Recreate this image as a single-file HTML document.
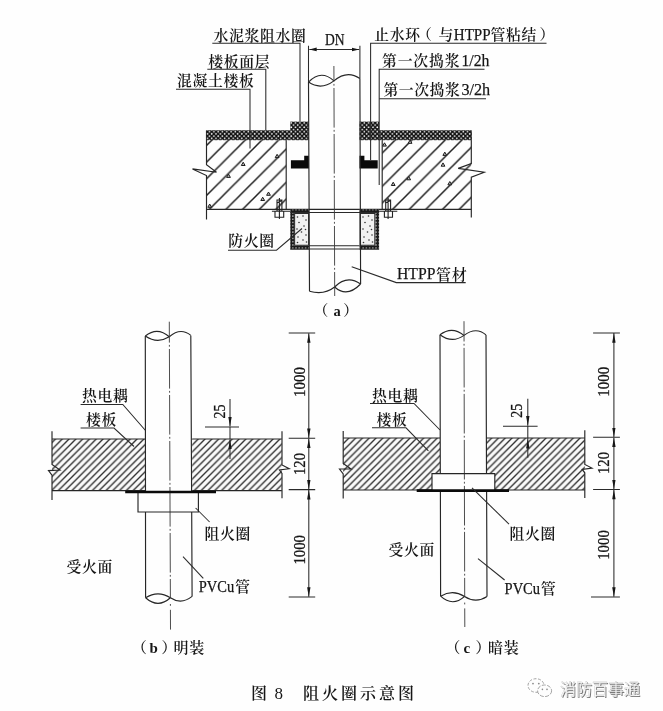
<!DOCTYPE html>
<html lang="zh-CN">
<head>
<meta charset="utf-8">
<title>图8 阻火圈示意图</title>
<style>
html,body{margin:0;padding:0;background:#fefefe;}
body{width:663px;height:711px;overflow:hidden;}
svg{display:block;filter:blur(0.35px);}
text{font-family:"Liberation Serif","Noto Serif CJK SC",serif;fill:#161616;}
.cj{font-size:14.8px;font-weight:600;letter-spacing:0.7px;}
.ln{stroke:#262626;stroke-width:1.15;fill:none;}
.thin{stroke:#2a2a2a;stroke-width:1.05;fill:none;}
.cl{stroke:#3a3a3a;stroke-width:0.9;fill:none;stroke-dasharray:39.6 2.3 1.8 2.3;}
.num{font-size:17px;stroke:#161616;stroke-width:0.3;}
.lat{font-size:17.5px;stroke:#161616;stroke-width:0.25;}
.wm{font-family:"Liberation Sans","Noto Sans CJK SC",sans-serif;font-size:16px;}
</style>
</head>
<body>
<svg width="663" height="711" viewBox="0 0 663 711">
<defs>
  <!-- dark dotted pattern (floor finish / mortar ring) -->
  <pattern id="pDot" width="4.3" height="4.4" patternUnits="userSpaceOnUse" patternTransform="translate(2.1 3)">
    <rect width="4.3" height="4.4" fill="#111"/>
    <circle cx="1.07" cy="1.1" r="0.86" fill="#fff"/>
    <circle cx="3.22" cy="3.3" r="0.86" fill="#fff"/>
  </pattern>
  <!-- collar casing pattern -->
  <pattern id="pCase" width="3.2" height="3.2" patternUnits="userSpaceOnUse">
    <rect width="3.2" height="3.2" fill="#1a1a1a"/>
    <circle cx="1.6" cy="1.6" r="0.7" fill="#f0f0f0"/>
  </pattern>
  <!-- wide 45deg hatch for concrete in (a) -->
  <pattern id="pWide" width="16.66" height="16.66" patternUnits="userSpaceOnUse" patternTransform="translate(352 0)">
    <path d="M-1 1 L1 -1 M-1 17.66 L17.66 -1 M15.66 17.66 L17.66 15.66" stroke="#1e1e1e" stroke-width="1.5" fill="none"/>
  </pattern>
  <!-- dense 45deg hatch for slabs in (b),(c) -->
  <pattern id="pDense" width="6.8" height="6.8" patternUnits="userSpaceOnUse" patternTransform="translate(4.9 0)">
    <rect width="6.8" height="6.8" fill="#fafafa"/>
    <path d="M-1 1 L1 -1 M-1 7.8 L7.8 -1 M5.8 7.8 L7.8 5.8" stroke="#2c2c2c" stroke-width="1.35" fill="none"/>
  </pattern>
  <marker id="arr" markerWidth="12" markerHeight="6" refX="9.6" refY="3" orient="auto" markerUnits="userSpaceOnUse">
    <path d="M0 1.3 L9.6 3 L0 4.7 Z" fill="#161616"/>
  </marker>
  <marker id="arrS" markerWidth="12" markerHeight="6" refX="1" refY="3" orient="auto" markerUnits="userSpaceOnUse">
    <path d="M10.6 1.3 L1 3 L10.6 4.7 Z" fill="#161616"/>
  </marker>
  <marker id="arrB" markerWidth="10" markerHeight="6" refX="7.4" refY="3" orient="auto" markerUnits="userSpaceOnUse">
    <path d="M0 1.2 L7.4 3 L0 4.8 Z" fill="#161616"/>
  </marker>
  <marker id="arrA" markerWidth="10" markerHeight="6" refX="1" refY="3" orient="auto" markerUnits="userSpaceOnUse">
    <path d="M8.4 1.2 L1 3 L8.4 4.8 Z" fill="#161616"/>
  </marker>
</defs>

<!-- ================= FIGURE (a) ================= -->
<g id="figA">
  <!-- concrete slab left / right -->
  <rect x="206.5" y="140" width="79.7" height="69.4" fill="url(#pWide)"/>
  <rect x="382.2" y="140" width="89.1" height="69.4" fill="url(#pWide)"/>
  <!-- slab outlines -->
  <path class="ln" d="M206.5 130.4 V164.8 L216.5 172.2 L192.5 168.9 L206.5 175.6 V219.5"/>
  <path class="ln" d="M471.3 130.4 V163.5 L458.2 168.4 L484.3 172.2 L471.3 177.2 V217.5"/>
  <path class="ln" d="M286.2 140 V209.4 M382.2 140 V209.4"/>
  <path class="ln" d="M206.5 209.4 H471.3"/>
  <!-- floor finish -->
  <rect x="206.5" y="130.2" width="84" height="10" fill="url(#pDot)"/>
  <rect x="379" y="130.2" width="92.3" height="10" fill="url(#pDot)"/>
  <!-- mortar water-stop rings (raised) -->
  <rect x="290.3" y="121.6" width="18.6" height="18.6" fill="url(#pDot)"/>
  <rect x="359.5" y="121.6" width="19.6" height="18.6" fill="url(#pDot)"/>
  <!-- black water-stop rings -->
  <path d="M290.9 160.3 H304.2 V155.8 H308.9 V168.5 H290.9 Z" fill="#0a0a0a"/>
  <path d="M377.7 160.3 H364.4 V155.8 H359.5 V168.5 H377.7 Z" fill="#0a0a0a"/>
  <!-- grouting boundary lines inside slab (right) -->
  <path class="thin" d="M379.2 140 V185"/>
  <!-- aggregate triangles -->
  <g class="thin" style="stroke-width:1;stroke:#1c1c1c;fill:#bbb">
    <path d="M243.2 162.2 l1.9 3.3 h-3.8z M228.5 174.1 l1.9 3.3 h-3.8z M277.1 154.3 l1.9 3.3 h-3.8z M268.5 192.0 l1.9 3.3 h-3.8z M262.7 197.2 l1.9 3.3 h-3.8z M209.7 204.0 l1.9 3.3 h-3.8z"/>
    <path d="M384.5 142.8 l1.9 3.3 h-3.8z M410.1 140.0 l1.9 3.3 h-3.8z M444.8 152.1 l1.9 3.3 h-3.8z M443.0 162.9 l1.9 3.3 h-3.8z M408.7 176.5 l1.9 3.3 h-3.8z M393.2 182.2 l1.9 3.3 h-3.8z M449.8 181.5 l1.9 3.3 h-3.8z"/>
  </g>
  <!-- fire collar -->
  <path d="M290.3 209.4 H309 V213 H294 V245.6 H309 V249.4 H290.3 Z" fill="url(#pCase)"/>
  <path d="M379.1 209.4 H359.5 V213 H375.4 V245.6 H359.5 V249.4 H379.1 Z" fill="url(#pCase)"/>
  <path class="thin" style="fill:#f1f1f1" d="M294.6 213.4 H308.6 V245.2 H294.6 Z M360 213.4 H374.8 V245.2 H360 Z"/>
  <g fill="#333">
    <circle cx="297.5" cy="217" r="0.8"/><circle cx="303" cy="216" r="0.8"/><circle cx="306" cy="220" r="0.8"/><circle cx="299" cy="222.5" r="0.8"/><circle cx="304" cy="226" r="0.8"/><circle cx="297" cy="229" r="0.8"/><circle cx="301.5" cy="232" r="0.8"/><circle cx="306" cy="235" r="0.8"/><circle cx="298" cy="237" r="0.8"/><circle cx="303" cy="240" r="0.8"/><circle cx="297.5" cy="242.5" r="0.8"/><circle cx="306.5" cy="242" r="0.8"/><circle cx="305.5" cy="229.5" r="0.8"/>
    <circle cx="363" cy="217" r="0.8"/><circle cx="368.5" cy="216" r="0.8"/><circle cx="372" cy="220" r="0.8"/><circle cx="365" cy="222.5" r="0.8"/><circle cx="370" cy="226" r="0.8"/><circle cx="363" cy="229" r="0.8"/><circle cx="367.5" cy="232" r="0.8"/><circle cx="372" cy="235" r="0.8"/><circle cx="364" cy="237" r="0.8"/><circle cx="369" cy="240" r="0.8"/><circle cx="363.5" cy="242.5" r="0.8"/><circle cx="372.5" cy="242" r="0.8"/><circle cx="371.5" cy="229.5" r="0.8"/>
  </g>
  <!-- collar plates across pipe -->
  <path class="thin" d="M290.3 212.4 H379.1 M309 245.8 H359.5 M290.3 248.9 H379.1"/>
  <!-- bolts -->
  <g class="thin" style="stroke-width:1.1;stroke:#222">
    <path d="M271.9 211.2 H290.3 M277 200 H281.9 V211 H277 Z M277 203 L281.9 200.6 M275 211.2 H283.7 V217.3 H275 Z M279.4 198 V219"/>
    <path d="M379.1 211.2 H397.3 M385.7 200 H390.6 V211 H385.7 Z M385.7 203 L390.6 200.6 M384.4 211.2 H392.5 V217.3 H384.4 Z M388.1 198 V219"/>
  </g>
  <!-- pipe -->
  <path class="ln" d="M308.5 82.1 L309.5 291.2 M359.9 78.5 L360.6 284"/>
  <path class="ln" d="M308.5 82.1 Q321 69 333.9 80.9 M308.5 82.1 Q321 90.6 333.9 80.9 Q347 69.6 359.9 78.5"/>
  <path class="ln" d="M309.5 291.2 Q324 295.4 334.6 287 Q347 274.5 360.6 284 M334.6 287 Q347 298 360.6 284"/>
  <path class="cl" d="M333.9 66 L334.7 296" stroke-dashoffset="24"/>
  <!-- DN dimension -->
  <path class="thin" d="M308.5 45.8 V82 M359.9 45.8 V78.5"/>
  <path class="thin" d="M309.3 49.4 H359.2" marker-end="url(#arrB)" marker-start="url(#arrA)"/>
  <text class="lat" x="324.9" y="44.9" style="font-size:16.5px" textLength="19.6" lengthAdjust="spacingAndGlyphs">DN</text>
  <!-- left labels -->
  <text class="cj" x="213.5" y="41">水泥浆阻水圈</text>
  <path class="thin" d="M212.3 43.3 H300 V121.5"/>
  <text class="cj" x="208.3" y="66.8">楼板面层</text>
  <path class="thin" d="M207.3 69.2 H265.8 V130"/>
  <text class="cj" x="177" y="85.6">混凝土楼板</text>
  <path class="thin" d="M176 89.2 H250 V148.5"/>
  <!-- right labels -->
  <text class="cj" y="40"><tspan x="374.3">止水环</tspan><tspan x="417">（</tspan><tspan x="438.6">与</tspan><tspan x="490.4">管粘结</tspan><tspan x="539.6">）</tspan></text>
  <text class="lat" x="453.8" y="40.2" textLength="36.8" lengthAdjust="spacingAndGlyphs">HTPP</text>
  <path class="thin" d="M546.5 43.2 H370.6 V160"/>
  <text class="cj" x="382" y="66" textLength="78.2">第一次捣浆</text>
  <text class="lat" x="461.4" y="66.1" textLength="28" lengthAdjust="spacingAndGlyphs">1/2h</text>
  <path class="thin" d="M484.5 69.2 H379.2 V140"/>
  <text class="cj" x="383.4" y="95" textLength="77">第一次捣浆</text>
  <text class="lat" x="461.4" y="95.4" textLength="28.8" lengthAdjust="spacingAndGlyphs">3/2h</text>
  <path class="thin" d="M486 98.8 H379.2"/>
  <!-- lower labels -->
  <text class="cj" x="228.3" y="246.3">防火圈</text>
  <path class="thin" d="M228 250.2 H276.5 L302 228.5"/>
  <text class="lat" x="397" y="279.1" textLength="38.4" lengthAdjust="spacingAndGlyphs">HTPP</text>
  <text class="cj" x="436" y="279.6" style="font-size:15px">管材</text>
  <path class="thin" d="M465.7 282.6 H396.3 L351.7 266.8"/>
  <text class="cj" y="316"><tspan x="313.6">（</tspan><tspan x="333.4" style="font-weight:700;font-size:14.5px">a</tspan><tspan x="343.2">）</tspan></text>
</g>


<!-- ================= FIGURE (b) ================= -->
<g id="figB">
  <rect x="52" y="439" width="93.5" height="51.6" fill="url(#pDense)"/>
  <rect x="192.2" y="439" width="89.6" height="51.6" fill="url(#pDense)"/>
  <path class="ln" d="M52 439 H145.5 M192.2 439 H281.8 M52 490.6 H145.5 M192.2 490.6 H281.8"/>
  <path class="ln" d="M52 431.2 V464.4 L60 470 L48.5 470.6 L52 475.1 V499.9"/>
  <path class="ln" d="M282 431.2 V465 L289.2 468.7 L279.4 470 L282 473.4 V498.2"/>
  <!-- pipe -->
  <path class="ln" d="M145.3 336 L145.5 491 M145.5 512 L145.6 597.7 M190.8 335.4 L191.6 491 M191.7 512 L192.1 596.4"/>
  <path class="ln" d="M145.3 336 Q157.3 326.2 169.3 336.8 M145.3 336 Q157.3 344.2 169.3 336.8 Q180.5 327 190.8 335.4"/>
  <path class="ln" d="M145.6 597.7 Q158 589.9 170.4 597.7 M145.6 597.7 Q158 608.9 170.4 597.7 Q181.2 605 192.1 596.4"/>
  <path class="cl" d="M169.3 321.7 L170.4 598" stroke-dashoffset="18.7"/><path class="cl" d="M170.4 604 L170.5 629.6" style="stroke-dasharray:1.8 4 40"/>
  <!-- collar -->
  <path class="ln" d="M138 492 V512 H198.4 V492"/>
  <path d="M125.2 492 H216" stroke="#0a0a0a" stroke-width="2.6"/>
  <!-- labels -->
  <text class="cj" x="82" y="401">热电耦</text>
  <path class="thin" d="M80.6 404.4 H122.8 L145.5 430.5"/>
  <text class="cj" x="86" y="424.6">楼板</text>
  <path class="thin" d="M80.6 428 H114 L134 446.5"/>
  <text class="cj" x="204.6" y="539">阻火圈</text>
  <path class="thin" d="M195.6 508 L209.6 522"/>
  <text class="lat" x="198.8" y="592" textLength="35.4" lengthAdjust="spacingAndGlyphs">PVCu</text>
  <text class="cj" x="235" y="591.8" style="font-size:15px">管</text>
  <path class="thin" d="M183 556.6 L203.3 578.3"/>
  <text class="cj" x="66.5" y="571.6">受火面</text>
  <text class="cj" y="653.2" style="font-size:15px"><tspan x="131.8">（</tspan><tspan x="149.6" style="font-weight:700">b</tspan><tspan x="161.6">）</tspan><tspan x="173.6">明装</tspan></text>
  <!-- dimensions -->
  <path class="thin" d="M288.7 333 H315.2 M288.7 438.2 H315.2 M288.7 489.6 H315.2 M288.7 597 H315.2"/>
  <path class="thin" d="M308.8 333.2 V438" marker-start="url(#arrS)" marker-end="url(#arr)"/>
  <path class="thin" d="M308.8 438.4 V489.4" marker-start="url(#arrS)" marker-end="url(#arr)"/>
  <path class="thin" d="M308.8 489.8 V596.8" marker-start="url(#arrS)" marker-end="url(#arr)"/>
  <text class="num" transform="translate(305 382) rotate(-90)" x="-14.9" textLength="29.8" lengthAdjust="spacingAndGlyphs">1000</text>
  <text class="num" transform="translate(305 464) rotate(-90)" x="-11.0" textLength="22" lengthAdjust="spacingAndGlyphs">120</text>
  <text class="num" transform="translate(305 549.8) rotate(-90)" x="-14.8" textLength="29.6" lengthAdjust="spacingAndGlyphs">1000</text>
  <path class="thin" d="M205 427 H239"/>
  <path class="thin" d="M230 399 V426.4" marker-end="url(#arr)"/>
  <path class="thin" d="M230 459 V439.6" marker-end="url(#arr)"/><path class="thin" d="M230 427 V439"/>
  <text class="num" transform="translate(225 411.4) rotate(-90)" x="-7.0" textLength="14" lengthAdjust="spacingAndGlyphs">25</text>
</g>

<!-- ================= FIGURE (c) ================= -->
<g id="figC">
  <path d="M343.2 438 H440 V473.6 H432 V490 H343.2 Z" fill="url(#pDense)"/>
  <path d="M486.4 438 H584.8 V490 H494.8 V473.6 H486.4 Z" fill="url(#pDense)"/>
  <path class="ln" d="M343.2 438 H440 M486.4 438 H584.8 M343.2 490 H432 M494.8 490 H584.8"/>
  <path class="ln" d="M343.2 431 V463.4 L351 469 H339.5 L343.2 474 V498.4"/>
  <path class="ln" d="M584.8 430.3 V464.4 L592 468.1 L582.2 469.4 L584.8 472.8 V498"/>
  <!-- pipe -->
  <path class="ln" d="M440 334.7 L440.3 473.6 M440.4 491 L440.6 596.2 M486 334.9 L486.5 473.6 M486.6 491 L487 596.4"/>
  <path class="ln" d="M440 334.7 Q452 325.6 464 335.4 M440 334.7 Q452 343.8 464 335.4 Q476 326.4 486 334.9"/>
  <path class="ln" d="M440.6 596.2 Q452.6 589 464.6 596.4 M440.6 596.2 Q452.6 607.2 464.6 596.4 Q475.8 603.8 487 596.4"/>
  <path class="cl" d="M464 321.2 L464.7 596.6" stroke-dashoffset="19.3"/><path class="cl" d="M464.7 602.6 L464.8 627" style="stroke-dasharray:1.8 4 40"/>
  <!-- recessed collar -->
  <path class="ln" d="M432 490 V473.6 H494.8 V490"/>
  <path d="M416.7 490.6 H509" stroke="#0a0a0a" stroke-width="2.6"/>
  <!-- labels -->
  <text class="cj" x="372" y="401">热电耦</text>
  <path class="thin" d="M370 403.4 H414 L440 430"/>
  <text class="cj" x="376.4" y="425.4">楼板</text>
  <path class="thin" d="M372 427.8 H406 L428.4 450.8"/>
  <text class="cj" x="509.6" y="539">阻火圈</text>
  <path class="thin" d="M472 487.8 L509 524.2"/>
  <text class="lat" x="504.6" y="593.8" textLength="35.4" lengthAdjust="spacingAndGlyphs">PVCu</text>
  <text class="cj" x="540.8" y="593.6" style="font-size:15px">管</text>
  <path class="thin" d="M478 558.6 L504.6 580"/>
  <text class="cj" x="388.6" y="555.4">受火面</text>
  <text class="cj" y="653.4" style="font-size:15px"><tspan x="445.2">（</tspan><tspan x="463.4" style="font-weight:700">c</tspan><tspan x="475.6">）</tspan><tspan x="488">暗装</tspan></text>
  <!-- dimensions -->
  <path class="thin" d="M593.1 332.9 H619.9 M593.1 437.3 H619.9 M593.1 489.4 H619.9 M591 597 H619.9"/>
  <path class="thin" d="M613.9 333.1 V437.1" marker-start="url(#arrS)" marker-end="url(#arr)"/>
  <path class="thin" d="M613.9 437.5 V489.2" marker-start="url(#arrS)" marker-end="url(#arr)"/>
  <path class="thin" d="M613.9 489.6 V596.8" marker-start="url(#arrS)" marker-end="url(#arr)"/>
  <text class="num" transform="translate(609.4 381.9) rotate(-90)" x="-14.9" textLength="29.9" lengthAdjust="spacingAndGlyphs">1000</text>
  <text class="num" transform="translate(609.4 463) rotate(-90)" x="-11.0" textLength="22" lengthAdjust="spacingAndGlyphs">120</text>
  <text class="num" transform="translate(609.4 545) rotate(-90)" x="-14.8" textLength="29.6" lengthAdjust="spacingAndGlyphs">1000</text>
  <path class="thin" d="M503 426.3 H537.6"/>
  <path class="thin" d="M527.8 398.7 V425.7" marker-end="url(#arr)"/>
  <path class="thin" d="M527.8 457.8 V439" marker-end="url(#arr)"/><path class="thin" d="M527.8 426 V439"/>
  <text class="num" transform="translate(522.2 410.8) rotate(-90)" x="-7.0" textLength="14" lengthAdjust="spacingAndGlyphs">25</text>
</g>

<!-- ================= caption ================= -->
<text class="cj" x="251" y="699.4" style="font-size:16px">图</text><text x="274.4" y="699.2" style="font-size:17px">8</text>
<text class="cj" x="303" y="699.4" style="font-size:16px;letter-spacing:3px">阻火圈示意图</text>

<!-- ================= watermark ================= -->
<g id="wm">
  <g fill="#fdfdfd" stroke="#9a9a9a" stroke-width="0.9">
    <ellipse cx="536" cy="685.5" rx="8" ry="6.8" stroke-dasharray="3 1.6"/>
    <ellipse cx="544.6" cy="690.8" rx="7" ry="5.8" stroke-dasharray="4 1.4"/>
  </g>
  <g fill="#8a8a8a"><circle cx="533" cy="683.6" r="0.9"/><circle cx="538.8" cy="683.6" r="0.9"/><circle cx="542.4" cy="689.4" r="0.8"/><circle cx="547" cy="689.4" r="0.8"/></g>
  <text class="wm" x="560.9" y="696.1" style="fill:#7a7a7a">消防百事通</text>
  <text class="wm" x="560" y="695.3" style="fill:#fdfdfd;stroke:#b5b5b5;stroke-width:0.3">消防百事通</text>
</g>
</svg>
</body>
</html>
